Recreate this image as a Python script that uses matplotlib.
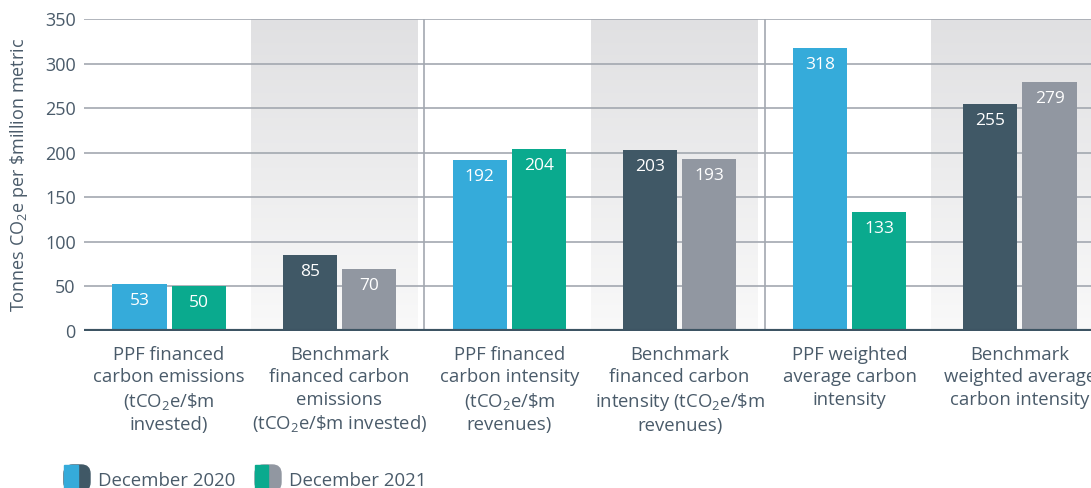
import matplotlib
matplotlib.use("Agg")
import matplotlib.pyplot as plt
from matplotlib.patches import Rectangle, FancyBboxPatch
import numpy as np

plt.rcParams['font.family'] = ['Open Sans', 'DejaVu Sans']
plt.rcParams['mathtext.fontset'] = 'custom'
plt.rcParams['mathtext.rm'] = 'Open Sans'
plt.rcParams['mathtext.it'] = 'Open Sans:italic'
plt.rcParams['mathtext.bf'] = 'Open Sans:bold'

# data
categories = [
    "PPF financed\ncarbon emissions\n(tCO$_2$e/\\$m\ninvested)",
    "Benchmark\nfinanced carbon\nemissions\n(tCO$_2$e/\\$m invested)",
    "PPF financed\ncarbon intensity\n(tCO$_2$e/\\$m\nrevenues)",
    "Benchmark\nfinanced carbon\nintensity (tCO$_2$e/\\$m\nrevenues)",
    "PPF weighted\naverage carbon\nintensity",
    "Benchmark\nweighted average\ncarbon intensity",
]
dec_2020 = [53, 85, 192, 203, 318, 255]
dec_2021 = [50, 70, 204, 193, 133, 279]
is_benchmark = [False, True, False, True, False, True]
legend_labels = ["December 2020", "December 2021"]
y_ticks = [0, 50, 100, 150, 200, 250, 300, 350]

BLUE = "#35ABDA"
GREEN = "#0AAA8E"
DARK = "#405866"
GREY = "#9197A1"
TEXT = "#4A5B6A"
GRID = "#A3A8B0"

fig = plt.figure(figsize=(10.91, 4.88), dpi=100)
ax = fig.add_axes([84 / 1091, 157 / 488, 1021 / 1091, 312 / 488])

x = np.arange(len(categories))
w = 0.318
off = 0.174

# shaded bands behind benchmark groups
grad = np.linspace(0, 1, 256).reshape(-1, 1)
band_cmap = matplotlib.colors.LinearSegmentedColormap.from_list(
    'band', ['#F9F9F9', '#E0E0E2'])
for i, b in enumerate(is_benchmark):
    if b:
        ax.imshow(grad, extent=(i - 0.52, i + 0.46, 0, 352), aspect='auto',
                  cmap=band_cmap, origin='lower', zorder=0)

for yt in y_ticks[1:]:
    ax.axhline(yt, color=GRID, lw=1.2, zorder=1)
for xv in [1.5, 3.5]:
    ax.plot([xv, xv], [0, 350], color=GRID, lw=1.2, zorder=1)

c1 = [DARK if b else BLUE for b in is_benchmark]
c2 = [GREY if b else GREEN for b in is_benchmark]
bars1 = ax.bar(x - off, dec_2020, width=w, color=c1, zorder=2)
bars2 = ax.bar(x + off, dec_2021, width=w, color=c2, zorder=2)

for bars, vals in [(bars1, dec_2020), (bars2, dec_2021)]:
    for bar, v in zip(bars, vals):
        ax.annotate(str(v), (bar.get_x() + bar.get_width() / 2, v),
                    xytext=(0, -17), textcoords='offset pixels',
                    ha='center', va='center', color='white', fontsize=12.5,
                    zorder=3)

ax.axhline(0, color="#3D5463", lw=3, zorder=4)

ax.set_xlim(-0.5, 5.5)
ax.set_ylim(0, 350)
ax.set_yticks(y_ticks)
ax.tick_params(axis='y', length=0, pad=6, labelsize=13, labelcolor=TEXT)
ax.set_xticks(x)
ax.set_xticklabels(categories, fontsize=13.3, color=TEXT, linespacing=1.3)
ax.tick_params(axis='x', length=0, pad=11)
for s in ax.spines.values():
    s.set_visible(False)
ax.set_ylabel("Tonnes CO$_2$e per \\$million metric", fontsize=13,
              color=TEXT)
ax.yaxis.set_label_coords(-0.053, 0.5)

# legend
def legend_icon(x0, c_left, c_right):
    h = 26 / 488
    y0 = 0 - 3 / 488
    fig.patches.append(FancyBboxPatch((x0 / 1091, y0), 26 / 1091, h,
                                      boxstyle="round,pad=0,rounding_size=0.008",
                                      transform=fig.transFigure,
                                      color=c_right, mutation_aspect=1091 / 488))
    fig.patches.append(Rectangle((x0 / 1091, y0), 13.5 / 1091, h,
                                 transform=fig.transFigure, color=c_left))

legend_icon(64, BLUE, DARK)
legend_icon(255, GREEN, GREY)
fig.text(98 / 1091, 7 / 488, legend_labels[0], fontsize=13.4, color=TEXT,
         ha='left', va='center')
fig.text(289 / 1091, 7 / 488, legend_labels[1], fontsize=13.4, color=TEXT,
         ha='left', va='center')

fig.savefig("out.png", dpi=100)
